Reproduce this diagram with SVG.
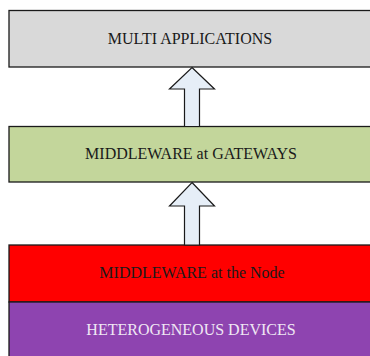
<svg xmlns="http://www.w3.org/2000/svg" width="370" height="356" viewBox="0 0 370 356">
<style>
.box{stroke:#1a1a1a;stroke-width:1.3}
.lbl{font-family:"Liberation Serif","Times New Roman",serif;font-size:16px;text-anchor:middle}
.arr{fill:#e6eef7;stroke:#1a1a1a;stroke-width:1.2;stroke-linejoin:miter}
</style>
<rect width="370" height="356" fill="#ffffff"/>
<g id="multi-applications">
<rect class="box" x="9" y="10.5" width="365" height="56.5" fill="#d9d9d9"/>
<text class="lbl" x="190" y="43.5" fill="#1a1a1a">MULTI APPLICATIONS</text>
</g>
<g id="middleware-gateways">
<rect class="box" x="9" y="126.5" width="365" height="55.5" fill="#c3d69b"/>
<text class="lbl" x="191" y="159" fill="#1a1a1a">MIDDLEWARE at GATEWAYS</text>
</g>
<g id="middleware-node">
<rect class="box" x="9" y="245" width="365" height="57" fill="#ff0000"/>
<text class="lbl" x="192" y="278" fill="#1a1a1a">MIDDLEWARE at the Node</text>
</g>
<g id="heterogeneous-devices">
<rect class="box" x="9" y="302" width="365" height="60" fill="#8e44b0"/>
<text class="lbl" x="191" y="334.5" fill="#f0e8f4">HETEROGENEOUS DEVICES</text>
</g>
<g id="connectors">
<path class="arr" d="M192,67.5 L214.5,89 L199.5,89 L199.5,126.5 L184.5,126.5 L184.5,89 L169.5,89 Z"/>
<path class="arr" d="M192,182.5 L214.5,206 L199.5,206 L199.5,245 L184.5,245 L184.5,206 L169.5,206 Z"/>
</g>
</svg>
